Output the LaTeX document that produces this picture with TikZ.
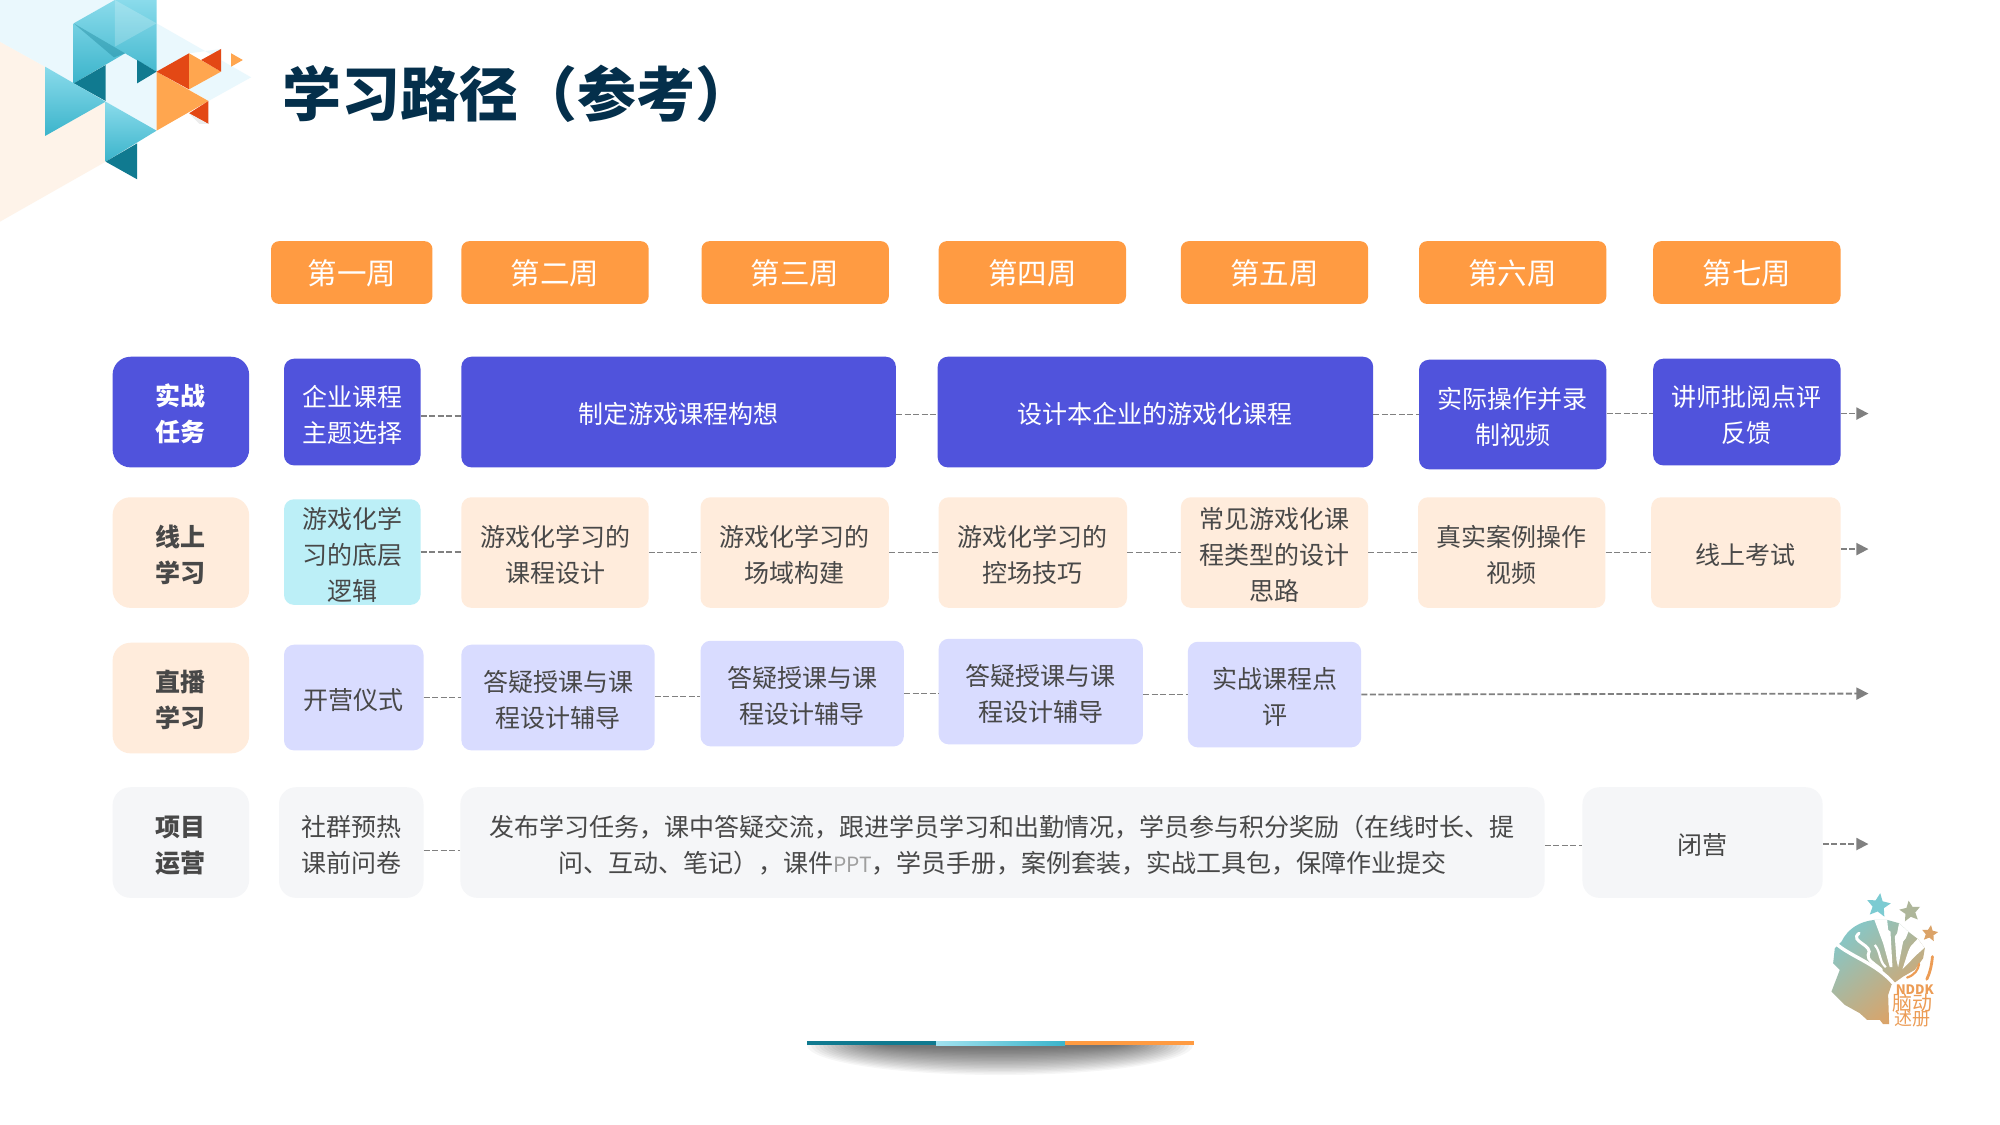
\documentclass[tikz,border=0pt]{standalone}
\usepackage{fontspec}
\usetikzlibrary{arrows.meta,shapes.geometric,shadings}
\newfontfamily\cjk{Noto Sans CJK SC}
\definecolor{indigo}{HTML}{5053DC}
\definecolor{peach}{HTML}{FFECDC}
\definecolor{cyanb}{HTML}{BCEFF7}
\definecolor{lav}{HTML}{D9DCFF}
\definecolor{lgrey}{HTML}{F5F6F8}
\definecolor{orangeb}{HTML}{FF9B42}
\definecolor{txt}{HTML}{484848}
\definecolor{navy}{HTML}{042F4B}
\definecolor{dash}{HTML}{808080}
\definecolor{tealD}{HTML}{107A90}
\definecolor{tealT}{HTML}{8ADBEB}
\definecolor{tealB}{HTML}{3BB4CB}
\definecolor{redL}{HTML}{E34815}
\definecolor{orL}{HTML}{FFA64F}
\definecolor{bgblue}{HTML}{EAF8FD}
\definecolor{bgpeach}{HTML}{FEF3E9}
\definecolor{logoT}{HTML}{7CCBD2}
\definecolor{logoO}{HTML}{EC9C55}
\tikzset{
 bx/.style={rounded corners=10pt,inner sep=0pt,align=center,text=txt,font=\cjk\fontsize{25}{36}\selectfont},
 indigobx/.style={bx,fill=indigo,text=white},
 peachbx/.style={bx,fill=peach},
 cyanbx/.style={bx,fill=cyanb},
 lavbx/.style={bx,fill=lav},
 greybx/.style={bx,fill=lgrey,rounded corners=17pt},
 weekbx/.style={bx,fill=orangeb,text=white,rounded corners=8pt,font=\cjk\fontsize{29.5}{36}\selectfont},
 lab/.style={rounded corners=18pt,font=\cjk\bfseries\fontsize{25}{36}\selectfont},
 conn/.style={draw=dash,line width=1.8pt,dash pattern=on 6pt off 2.5pt},
 connar/.style={conn,-{Triangle[length=12pt,width=12pt,fill=dash]}},
 gradT/.style={top color=tealT,bottom color=tealB,draw=none},
}
\newcommand{\bxn}[7]{\node[#2,minimum width={(#5-#3)*0.9965pt},minimum height={(#6-#4)*0.9965pt}] (#1) at ({(#3+#5)/2},{(#4+#6)/2}) {\rule{0pt}{26pt}#7};}
\begin{document}
\begin{tikzpicture}[x=0.9965pt,y=-0.9965pt]
\useasboundingbox (0,0) rectangle (2007.03,1128.95);
\fill[white] (0,0) rectangle (2007.03,1128.95);
% logo
\begin{scope}[x=1pt,y=-1pt,xscale=0.4847,yscale=0.3333]
\fill[bgpeach] (0,125)--(93,200)--(93,408)--(218,305)--(218,485)--(0,665)--cycle;
\fill[bgblue] (0,0)--(237,0)--(152,70)--(152,250)--(93,200)--(0,125)--cycle;
\fill[bgblue] (218,305)--(218,190)--(258,160)--(283,180)--(283,250)--(323,215)--(323,392)--cycle;
\fill[bgblue] (323,70)--(518,232)--(430,303)--(390,268)--(456,215)--(456,147)--(390,160)--(323,215)--cycle;
\shade[gradT] (152,70)--(237,0)--(323,0)--(323,215)--(258,160)--(152,250)--cycle;
\fill[white,opacity=.2] (237,0)--(323,70)--(237,140)--cycle;
\fill[tealD,opacity=.35] (152,70)--(258,160)--(235,172)--cycle;
\fill[tealD] (218,195)--(218,303)--(152,250)--cycle;
\fill[tealD] (283,180)--(323,215)--(283,250)--cycle;
\shade[gradT] (93,200)--(218,305)--(93,408)--cycle;
\shade[gradT] (218,305)--(323,392)--(218,485)--cycle;
\fill[tealD] (283,430)--(283,538)--(218,485)--cycle;
\fill[orL] (323,215)--(430,303)--(323,392)--cycle;
\fill[redL] (323,215)--(390,160)--(390,268)--cycle;
\fill[orL] (390,160)--(456,215)--(390,268)--cycle;
\fill[redL] (415,180)--(456,147)--(456,215)--cycle;
\fill[orL] (477,160)--(501,180)--(477,200)--cycle;
\fill[redL] (430,303)--(430,372)--(390,340)--cycle;
\fill[gray!15] (390,340)--(430,372)--(412,372)--cycle;
\end{scope}
% title
\node[anchor=west,inner sep=0pt,text=navy,font=\cjk\bfseries\fontsize{59}{70}\selectfont] (title) at (283,94) {学习路径（参考）};
% weeks
\bxn{w1}{weekbx}{272}{242}{434}{305}{第一周}
\bxn{w2}{weekbx}{463}{242}{651}{305}{第二周}
\bxn{w3}{weekbx}{704}{242}{892}{305}{第三周}
\bxn{w4}{weekbx}{942}{242}{1130}{305}{第四周}
\bxn{w5}{weekbx}{1185}{242}{1373}{305}{第五周}
\bxn{w6}{weekbx}{1424}{242}{1612}{305}{第六周}
\bxn{w7}{weekbx}{1659}{242}{1847}{305}{第七周}
% row 1
\bxn{l1}{indigobx,lab}{113}{358}{250}{469}{实战\\任务}
\bxn{a1}{indigobx}{285}{360}{422}{467}{企业课程\\主题选择}
\bxn{a2}{indigobx}{463}{358}{899}{469}{制定游戏课程构想}
\bxn{a3}{indigobx}{941}{358}{1378}{469}{设计本企业的游戏化课程}
\bxn{a4}{indigobx}{1424}{361}{1612}{471}{实际操作并录\\制视频}
\bxn{a5}{indigobx}{1659}{360}{1847}{467}{讲师批阅点评\\反馈}
\coordinate (a6) at (1875,415);
\draw[conn] ([yshift=-4pt]a1.east)--([yshift=-4pt]a1.east -| a2.west);
\draw[conn] ([yshift=-2.5pt]a2.east)--([yshift=-2.5pt]a2.east -| a3.west);
\draw[conn] ([yshift=-2.5pt]a3.east)--([yshift=-2.5pt]a3.east -| a4.west);
\draw[conn] ([yshift=1pt]a4.east)--([yshift=1pt]a4.east -| a5.west);
\draw[connar] (a5.east |- a6)--(a6);
% row 2
\bxn{l2}{peachbx,lab}{113}{499}{250}{610}{线上\\学习}
\bxn{b1}{cyanbx}{285}{501}{422}{607}{游戏化学\\习的底层\\逻辑}
\bxn{b2}{peachbx}{463}{499}{651}{610}{游戏化学习的\\课程设计}
\bxn{b3}{peachbx}{703}{499}{892}{610}{游戏化学习的\\场域构建}
\bxn{b4}{peachbx}{942}{499}{1131}{610}{游戏化学习的\\控场技巧}
\bxn{b5}{peachbx}{1185}{499}{1373}{610}{常见游戏化课\\程类型的设计\\思路}
\bxn{b6}{peachbx}{1423}{499}{1611}{610}{真实案例操作\\视频}
\bxn{b7}{peachbx}{1657}{499}{1847}{610}{线上考试}
\coordinate (b8) at (1875,551);
\foreach \u/\v in {b1/b2,b2/b3,b3/b4,b4/b5,b5/b6,b6/b7}{\draw[conn] (\u.east)--(\u.east -| \v.west);}
\draw[connar] (b7.east |- b8)--(b8);
% row 3
\bxn{l3}{peachbx,lab}{113}{645}{250}{756}{直播\\学习}
\bxn{c1}{lavbx}{285}{647}{425}{753}{开营仪式}
\bxn{c2}{lavbx}{463}{647}{657}{753}{答疑授课与课\\程设计辅导}
\bxn{c3}{lavbx}{703}{643}{907}{749}{答疑授课与课\\程设计辅导}
\bxn{c4}{lavbx}{942}{641}{1147}{747}{答疑授课与课\\程设计辅导}
\bxn{c5}{lavbx}{1192}{644}{1366}{750}{实战课程点\\评}
\coordinate (c6) at (1875,696);
\draw[conn] (c1.east)--(c1.east -| c2.west);
\draw[conn] ([yshift=1pt]c2.east)--([yshift=1pt]c2.east -| c3.west);
\draw[conn] (c3.east)--(c3.east -| c4.west);
\draw[conn] ([yshift=-3pt]c4.east)--([yshift=-3pt]c4.east -| c5.west);
\draw[connar] (c5.east)--(c6);
% row 4
\bxn{l4}{greybx,lab}{113}{790}{250}{901}{项目\\运营}
\bxn{d1}{greybx}{280}{790}{425}{901}{社群预热\\课前问卷}
\bxn{d2}{greybx}{462}{790}{1550}{901}{发布学习任务，课中答疑交流，跟进学员学习和出勤情况，学员参与积分奖励（在线时长、提\\问、互动、笔记），课件{\color{gray!75}\fontsize{21}{36}\selectfont PPT}，学员手册，案例套装，实战工具包，保障作业提交}
\bxn{d3}{greybx}{1588}{790}{1829}{901}{闭营}
\coordinate (d4) at (1875,847);
\draw[conn] ([yshift=-8pt]d1.east)--([yshift=-8pt]d1.east -| d2.west);
\draw[conn] ([yshift=-3pt]d2.east)--([yshift=-3pt]d2.east -| d3.west);
\draw[connar] (d3.east |- d4)--(d4);
% bottom bar
\begin{scope}[x=1pt,y=-1pt]
\begin{scope}
\clip (807,1045) rectangle (1194,1082);
\foreach \i in {0,...,19}{
 \fill[black,opacity=.035] (1000,1045) ellipse [x radius={193-4*\i},y radius={30-1.4*\i}];
}
\end{scope}
\fill[tealD] (807,1041) rectangle (936,1045);
\shade[left color=tealT!80,right color=tealB] (936,1041) rectangle (1065,1045);
\fill[orangeb] (1065,1041) rectangle (1194,1045);
\end{scope}
% brain logo
\begin{scope}[x=0.3333pt,y=-0.3333pt,shift={(5340,2640)}]
\begin{scope}
\clip (165,205)--(185,185)..controls (205,145) and (240,125) ..(283,120)--(322,120)--(358,130)--(385,155)--(415,178)--(435,205)--(430,235)--(405,270)--(370,290)--(335,315)--(325,345)--(328,433)--(310,433)--(300,420)--(262,420)--(240,400)--(195,375)--(155,335)--(180,270)--(160,250)--cycle;
\shade[top color=logoT,bottom color=logoO,shading angle=40] (120,80) rectangle (480,470);
\fill[white] (283,118)--(322,118)--(325,150)--(332,155)--(338,262)--(330,262)--(310,190)--cycle;
\fill[white] (358,128)--(388,150)--(378,175)--(370,185)--(355,262)--(350,240)--(345,170)--(352,160)--cycle;
\fill[white] (415,175)--(438,200)--(410,225)--(368,268)--(385,215)--(392,200)--cycle;
\end{scope}
\draw[white,line width=3.4pt] (165,188)..controls (210,230) and (290,250) ..(342,312);
\draw[white,line width=3pt,line cap=round] (238,160)..controls (205,185) and (285,195) ..(265,225)..controls (260,240) and (290,255) ..(305,270);
\draw[white,line width=2.2pt] (285,195)..controls (305,220) and (295,240) ..(318,262);
\draw[logoO,line width=2.2pt,line cap=round] (382,293)..controls (405,285) and (415,270) ..(418,252);
\draw[logoO,line width=2.8pt,line cap=round] (458,230)..controls (455,260) and (450,280) ..(441,298);
\node[star,star points=5,star point ratio=2.1,fill=logoT,minimum size=25pt,inner sep=0pt,rotate=-8] (s1) at (296,77) {};
\node[star,star points=5,star point ratio=2.1,fill=logoT!55!logoO,minimum size=22pt,inner sep=0pt,rotate=8] (s2) at (391,95) {};
\node[star,star points=5,star point ratio=2.1,fill=logoO!85!logoT,minimum size=17pt,inner sep=0pt,rotate=-8] (s3) at (450,161) {};
\node[inner sep=0pt,text=logoO,font=\cjk\bfseries\fontsize{13}{13}\selectfont] (nd) at (405,328) {NDDK};
\node[inner sep=0pt,text=logoO,font=\cjk\fontsize{20}{20}\selectfont] (nd2) at (398,370) {脑动};
\node[inner sep=0pt,text=logoO,font=\cjk\fontsize{18}{18}\selectfont] (nd3) at (398,418) {述册};
\end{scope}
\end{tikzpicture}
\end{document}
